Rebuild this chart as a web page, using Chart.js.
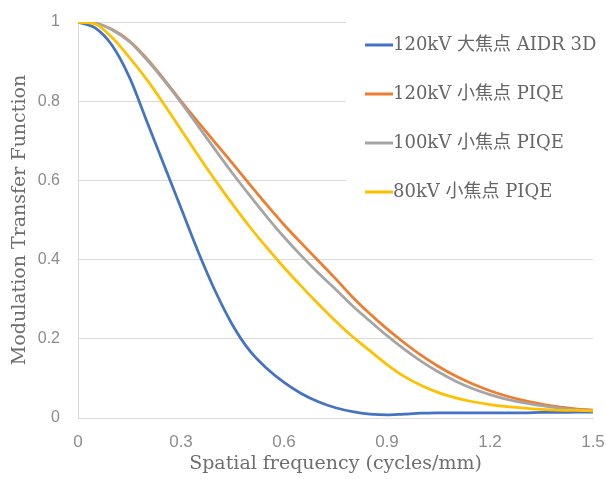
<!DOCTYPE html>
<html><head><meta charset="utf-8">
<script src="https://cdn.jsdelivr.net/npm/chart.js@4/dist/chart.umd.min.js"></script>
<style>html,body{margin:0;padding:0;background:#fff}#wrap{width:606px;height:479px;position:relative}</style>
</head><body><div id="wrap"><canvas id="c" width="606" height="479"></canvas></div>
<script>
// ---- data ----
const freq = [0,0.05,0.1,0.15,0.2,0.25,0.3,0.35,0.4,0.45,0.5,0.55,0.6,0.65,0.7,0.75,0.8,0.85,0.9,0.95,1.0,1.05,1.1,1.15,1.2,1.25,1.3,1.35,1.4,1.45,1.5];
const seriesNames = ['120kV 大焦点 AIDR 3D','120kV 小焦点 PIQE','100kV 小焦点 PIQE','80kV 小焦点 PIQE'];
const mtf120Large = [1.0,0.985,0.94,0.86,0.75,0.64,0.53,0.42,0.32,0.235,0.17,0.125,0.09,0.062,0.041,0.026,0.016,0.01,0.008,0.01,0.012,0.013,0.013,0.013,0.013,0.013,0.013,0.014,0.014,0.015,0.015];
const mtf120Small = [1.0,0.997,0.981,0.952,0.908,0.856,0.8,0.747,0.695,0.643,0.59,0.538,0.488,0.442,0.397,0.352,0.305,0.263,0.225,0.19,0.158,0.13,0.106,0.086,0.069,0.055,0.044,0.035,0.028,0.023,0.02];
const mtf100Small = [1.0,0.997,0.98,0.95,0.905,0.853,0.797,0.737,0.677,0.618,0.562,0.508,0.457,0.41,0.366,0.325,0.283,0.245,0.208,0.174,0.143,0.116,0.093,0.074,0.059,0.047,0.038,0.031,0.025,0.021,0.018];
const mtf80Small = [1.0,0.995,0.96,0.91,0.855,0.793,0.728,0.663,0.6,0.54,0.483,0.43,0.38,0.333,0.288,0.245,0.205,0.17,0.135,0.105,0.082,0.064,0.051,0.041,0.034,0.029,0.025,0.022,0.02,0.019,0.018];
const xTickValues = [0,0.3,0.6,0.9,1.2,1.5];
const xTickLabels = ['0','0.3','0.6','0.9','1.2','1.5'];
const yTickValues = [0,0.2,0.4,0.6,0.8,1];
const yTickLabels = ['0','0.2','0.4','0.6','0.8','1'];
const xTitle = 'Spatial frequency (cycles/mm)';
const yTitle = 'Modulation Transfer Function';

// ---- styles ----
const seriesValues = [mtf120Large, mtf120Small, mtf100Small, mtf80Small];
const colors = ['#4472C4','#ED7D31','#A5A5A5','#FFC000'];

const legendPlugin = {
  id: 'sideLegend',
  afterDraw(chart) {
    const ctx = chart.ctx;
    ctx.save();
    ctx.fillStyle = '#ffffff';
    ctx.fillRect(346, 12, 260, 200);
    const ys = [45, 94, 143, 192];
    chart.data.datasets.forEach((ds, i) => {
      const y = ys[i];
      ctx.strokeStyle = ds.borderColor;
      ctx.lineWidth = 3;
      ctx.beginPath();
      ctx.moveTo(365, y);
      ctx.lineTo(393, y);
      ctx.stroke();
      ctx.fillStyle = '#666666';
      ctx.font = '18px "DejaVu Serif", "Noto Sans CJK JP", serif';
      ctx.textBaseline = 'middle';
      ctx.textAlign = 'left';
      ctx.fillText(ds.label, 393, y);
    });
    ctx.restore();
  }
};

new Chart(document.getElementById('c'), {
  type: 'line',
  data: {
    datasets: seriesNames.map((name, i) => ({
      label: name,
      data: freq.map((f, j) => ({x: f, y: seriesValues[i][j]})),
      borderColor: colors[i],
      backgroundColor: colors[i],
      borderWidth: 2.75,
      pointRadius: 0,
      fill: false,
      tension: 0.4,
      cubicInterpolationMode: 'monotone',
      order: 3 - i
    }))
  },
  options: {
    responsive: false,
    animation: false,
    devicePixelRatio: 1,
    layout: {padding: {top: 22, right: 13, left: 0, bottom: 0}},
    plugins: {legend: {display: false}, tooltip: {enabled: false}},
    scales: {
      x: {
        type: 'linear', min: 0, max: 1.5,
        afterBuildTicks: s => { s.ticks = xTickValues.map(v => ({value: v})); },
        afterFit: s => { s.height = 61; s.paddingLeft = 0; s.paddingRight = 0; },
        ticks: {
          callback: (v, i) => xTickLabels[i],
          font: {family: '"Liberation Sans", sans-serif', size: 17},
          color: '#8c8c8c', padding: 14, maxRotation: 0, autoSkip: false
        },
        grid: {display: false, drawTicks: false},
        border: {display: true, color: '#d9d9d9', width: 1},
        title: {display: true, text: xTitle, color: '#6e6e6e',
          font: {family: '"DejaVu Serif", serif', size: 19}, padding: {top: 0, bottom: 4}}
      },
      y: {
        min: 0, max: 1,
        afterBuildTicks: s => { s.ticks = yTickValues.map(v => ({value: v})); },
        afterFit: s => { s.width = 78; s.paddingTop = 0; s.paddingBottom = 0; },
        ticks: {
          callback: (v, i) => yTickLabels[i],
          font: {family: '"Liberation Sans", sans-serif', size: 16},
          color: '#8c8c8c', padding: 18
        },
        grid: {color: '#d9d9d9', drawTicks: false, lineWidth: 1},
        border: {display: true, color: '#d9d9d9', width: 1},
        title: {display: true, text: yTitle, color: '#6e6e6e',
          font: {family: '"DejaVu Serif", serif', size: 19}, padding: {top: 9, bottom: 0}}
      }
    }
  },
  plugins: [legendPlugin]
});
</script>
</body></html>
